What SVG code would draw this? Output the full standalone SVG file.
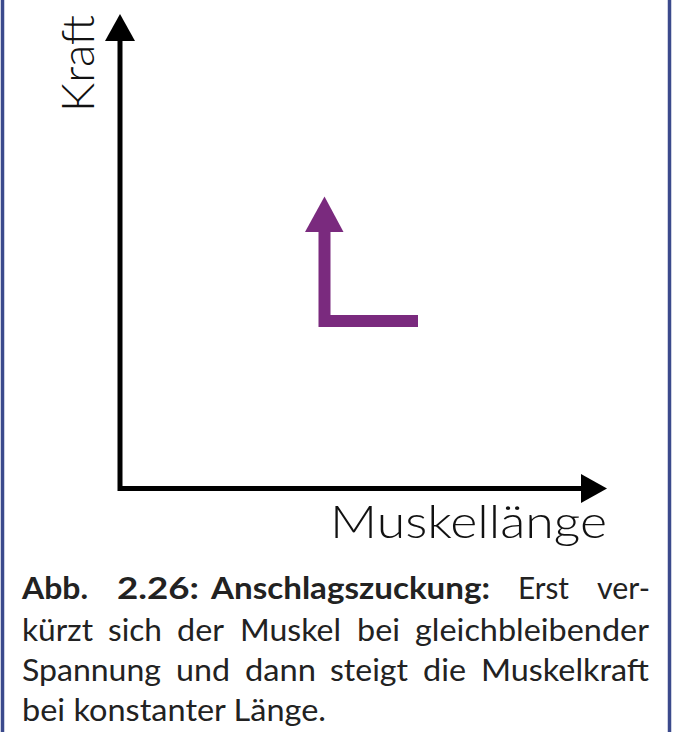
<svg xmlns="http://www.w3.org/2000/svg" width="682" height="732" viewBox="0 0 682 732">
<style>
.frame{stroke:#3b4a8c;stroke-width:3.5;fill:none}
.axis{stroke:#000;stroke-width:5;fill:none;stroke-linejoin:miter}
.head{fill:#000}
.purple{stroke:#7a2a7e;stroke-width:12;fill:none;stroke-linejoin:miter}
.phead{fill:#7a2a7e}
.lbl{font-family:Lato,"Liberation Sans",sans-serif;font-size:46px;font-weight:300;fill:#111}
.cap{font-family:Lato,"Liberation Sans",sans-serif;font-size:31px;fill:#222}
.b{font-weight:bold}
</style>
<rect width="682" height="732" fill="#fff"/>
<g id="frame">
<line class="frame" x1="2.5" y1="0" x2="2.5" y2="732"/>
<line class="frame" x1="669.5" y1="0" x2="669.5" y2="732"/>
</g>
<g id="connectors">
<path class="axis" d="M120,40 V488.5 H582"/>
<polygon class="head" points="105,41 135,41 120,14"/>
<polygon class="head" points="581,474 581,503 607,488.5"/>
</g>
<g id="label-kraft">
<text class="lbl" transform="translate(94,112) rotate(-90)" textLength="97" lengthAdjust="spacingAndGlyphs">Kraft</text>
</g>
<g id="label-muskellaenge">
<text class="lbl" x="330" y="538" textLength="277" lengthAdjust="spacingAndGlyphs">Muskellänge</text>
</g>
<g id="purple-arrow">
<path class="purple" d="M324.5,232 V321 H418"/>
<polygon class="phead" points="305,232 343.5,232 324.5,196.5"/>
</g>
<g id="caption" class="cap">
<text class="cap b" x="22" y="599" textLength="66" lengthAdjust="spacingAndGlyphs">Abb.</text>
<text class="cap b" x="117" y="599" textLength="82" lengthAdjust="spacingAndGlyphs">2.26:</text>
<text class="cap b" x="211" y="599" textLength="279" lengthAdjust="spacingAndGlyphs">Anschlagszuckung:</text>
<text class="cap" x="518" y="599" textLength="51" lengthAdjust="spacingAndGlyphs">Erst</text>
<text class="cap" x="597" y="599" textLength="53" lengthAdjust="spacingAndGlyphs">ver-</text>
<text class="cap" x="22" y="641" textLength="71" lengthAdjust="spacingAndGlyphs">kürzt</text>
<text class="cap" x="108" y="641" textLength="54" lengthAdjust="spacingAndGlyphs">sich</text>
<text class="cap" x="177" y="641" textLength="47" lengthAdjust="spacingAndGlyphs">der</text>
<text class="cap" x="240" y="641" textLength="101" lengthAdjust="spacingAndGlyphs">Muskel</text>
<text class="cap" x="357" y="641" textLength="43" lengthAdjust="spacingAndGlyphs">bei</text>
<text class="cap" x="415" y="641" textLength="234" lengthAdjust="spacingAndGlyphs">gleichbleibender</text>
<text class="cap" x="22" y="681" textLength="139" lengthAdjust="spacingAndGlyphs">Spannung</text>
<text class="cap" x="176" y="681" textLength="54" lengthAdjust="spacingAndGlyphs">und</text>
<text class="cap" x="245" y="681" textLength="71" lengthAdjust="spacingAndGlyphs">dann</text>
<text class="cap" x="330" y="681" textLength="78" lengthAdjust="spacingAndGlyphs">steigt</text>
<text class="cap" x="423" y="681" textLength="43" lengthAdjust="spacingAndGlyphs">die</text>
<text class="cap" x="481" y="681" textLength="168" lengthAdjust="spacingAndGlyphs">Muskelkraft</text>
<text class="cap" x="22" y="721" textLength="304" lengthAdjust="spacingAndGlyphs">bei konstanter Länge.</text>
</g>
</svg>
